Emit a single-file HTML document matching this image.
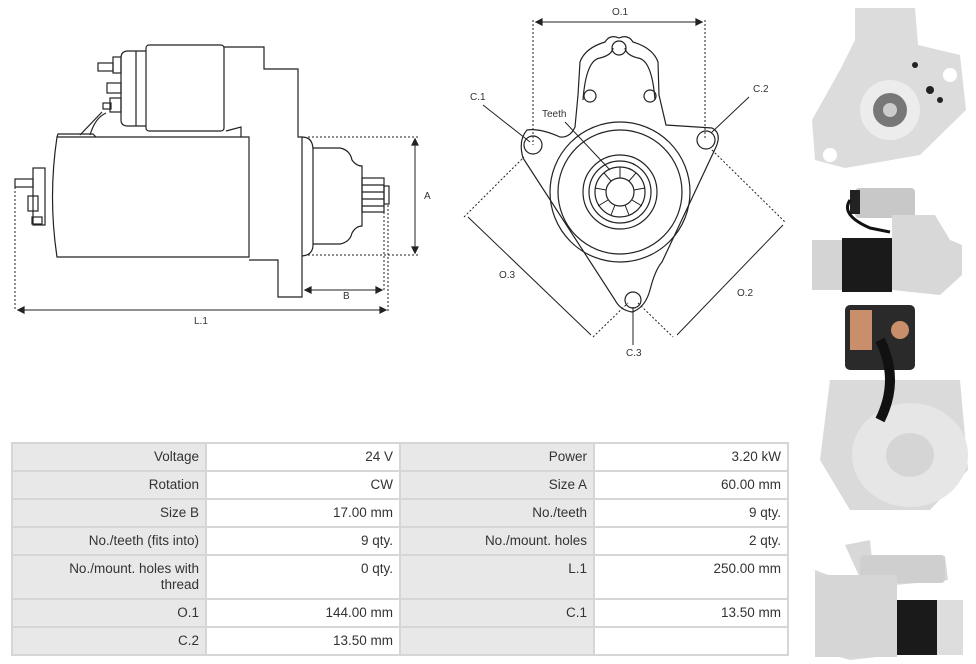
<!DOCTYPE html>
<html><head><meta charset="utf-8"><style>
body{margin:0;width:976px;height:664px;background:#fff;overflow:hidden;position:relative;font-family:"Liberation Sans",sans-serif}
svg{position:absolute;left:0;top:0}
table{position:absolute;left:11px;top:442px;border-collapse:collapse;font-size:13.5px;color:#333}
td{border:2px solid #d6d6d6;text-align:right;vertical-align:top;padding:5px 6px 0 4px;height:21px;line-height:16px}
td.l{background:#e8e8e8}
td.v{background:#fff}
</style></head><body>
<svg width="976" height="664" viewBox="0 0 976 664" fill="none" stroke="#222" stroke-width="1.2">
<!-- left drawing -->
<path d="M57,137 L249,137 L249,257 L57,257 Q48,197 57,137Z"/>
<path d="M57,137 L58,134 L93,134 L96,137"/>
<path d="M80,135 L102,112 M90,135 Q95,118 106,113"/>
<rect x="146" y="45" width="78" height="86" rx="3"/>
<path d="M146,51 L128,51 Q121,51 121,58 L121,120 Q121,126 128,126 L146,126"/>
<path d="M136,51 L136,126"/>
<rect x="113" y="57" width="8" height="16"/><rect x="98" y="63" width="15" height="8"/>
<rect x="107" y="83" width="14" height="10"/>
<rect x="110" y="98" width="11" height="14"/><rect x="103" y="103" width="8" height="6"/>
<path d="M224,47 L264,47 L264,69 L298,69 L298,137 L302,137 L302,297 L278,297 L278,260 L249,260 M226,131 L241,127 L241,137"/>
<path d="M302,137 Q313,137 313,150 L313,245 Q313,255 302,256"/>
<path d="M313,148 L340,148 Q350,150 352,160 Q356,166 362,166 L362,226 Q356,226 352,233 Q350,242 340,244 L313,244"/>
<rect x="362" y="178" width="22" height="34"/><path d="M362,185 L384,185 M362,192 L384,192 M362,199 L384,199 M362,206 L384,206"/>
<rect x="384" y="186" width="5" height="18"/>
<rect x="33" y="168" width="12" height="57"/><rect x="28" y="196" width="10" height="15"/>
<rect x="15" y="179" width="18" height="8"/><rect x="32" y="217" width="10" height="7"/>
<g stroke-dasharray="2,2" stroke-width="1"><path d="M15,187 L15,310 M308,137 L418,137 M308,255 L418,255 M384,212 L384,290 M388,205 L388,312 M302,257 L302,290"/></g>
<path d="M415,139 L415,253 M305,290 L382,290 M18,310 L386,310" stroke-width="1"/>
<path d="M415,139 l-3,6 h6z M415,253 l-3,-6 h6z M305,290 l6,-3 v6z M382,290 l-6,-3 v6z M18,310 l6,-3 v6z M386,310 l-6,-3 v6z" fill="#222"/>
<g font-size="10" fill="#333" stroke="none" font-family="Liberation Sans, sans-serif">
<text x="424" y="199">A</text><text x="343" y="299">B</text><text x="194" y="324">L.1</text>
<text x="612" y="15">O.1</text><text x="470" y="100">C.1</text><text x="753" y="92">C.2</text>
<text x="542" y="117">Teeth</text><text x="499" y="278">O.3</text><text x="737" y="296">O.2</text><text x="626" y="356">C.3</text>
</g>
<!-- center drawing -->
<path d="M527,130 Q540,128 560,137 Q570,138 575,127 L578,95 L580,62 Q585,48 605,42 Q610,34 619,38 Q628,34 633,42 Q653,48 658,62 L659,95 L666,125 L712,128 Q722,133 716,147 L662,262 Q655,270 650,290 Q645,308 632,312 Q620,310 615,300 L523,158 Q518,140 527,130Z"/>
<path d="M583,100 Q586,60 600,58 Q612,55 613,48 M655,100 Q652,60 638,58 Q626,55 625,48"/>
<circle cx="619" cy="48" r="7"/><circle cx="590" cy="96" r="6"/><circle cx="650" cy="96" r="6"/>
<circle cx="533" cy="145" r="9"/><circle cx="706" cy="140" r="9"/><circle cx="633" cy="300" r="8"/>
<circle cx="620" cy="192" r="70"/><circle cx="620" cy="192" r="62"/>
<circle cx="620" cy="192" r="37"/><circle cx="620" cy="192" r="31"/><circle cx="620" cy="192" r="25"/><circle cx="620" cy="192" r="14"/>
<g stroke-width="1"><path d="M620,167 L620,178 M636,173 L629,181 M645,188 L634,190 M642,206 L632,200 M629,215 L625,205 M611,215 L615,205 M598,206 L608,200 M595,188 L606,190 M604,173 L611,181"/></g>
<g stroke-dasharray="2,2" stroke-width="1"><path d="M533,20 L533,145 M705,20 L705,140 M464,217 L524,157 M712,150 L785,222 M593,337 L628,303 M638,303 L673,337"/></g>
<path d="M536,22 L702,22 M468,217 L591,335 M677,335 L783,225 M483,105 L530,142 M749,97 L711,133 M565,122 L610,170 M633,345 L633,307" stroke-width="1"/>
<path d="M536,22 l6,-3 v6z M702,22 l-6,-3 v6z" fill="#222"/>
<!-- photos -->
<g stroke="none">
<path d="M855,8 L915,8 L918,45 L960,55 L966,110 L920,155 L845,168 L815,160 L812,120 L840,70 L855,40Z" fill="#dcdcdc"/>
<circle cx="890" cy="110" r="30" fill="#ececec"/><circle cx="890" cy="110" r="17" fill="#777"/><circle cx="890" cy="110" r="7" fill="#ccc"/>
<circle cx="950" cy="75" r="7" fill="#fff"/><circle cx="830" cy="155" r="7" fill="#fff"/>
<circle cx="915" cy="65" r="3" fill="#222"/><circle cx="930" cy="90" r="4" fill="#222"/><circle cx="940" cy="100" r="3" fill="#222"/>
<rect x="855" y="188" width="60" height="30" rx="4" fill="#c8c8c8"/><rect x="850" y="190" width="10" height="24" fill="#222"/>
<rect x="812" y="240" width="30" height="50" fill="#d4d4d4"/><rect x="842" y="238" width="50" height="54" fill="#1a1a1a"/>
<path d="M892,215 L935,215 L950,240 L962,245 L962,275 L940,295 L892,290Z" fill="#d8d8d8"/>
<path d="M850,200 Q840,215 870,228 L890,232" stroke="#111" stroke-width="3" fill="none"/>
<rect x="845" y="305" width="70" height="65" rx="5" fill="#2a2a2a"/>
<rect x="850" y="310" width="22" height="40" fill="#c98f6a"/><circle cx="900" cy="330" r="9" fill="#c98f6a"/>
<path d="M830,380 L960,380 L968,470 L930,510 L850,510 L820,460 Z" fill="#dadada"/>
<ellipse cx="910" cy="455" rx="58" ry="52" fill="#e6e6e6"/><ellipse cx="910" cy="455" rx="24" ry="22" fill="#d5d5d5"/>
<path d="M880,340 Q900,380 880,420" stroke="#111" stroke-width="10" fill="none"/>
<path d="M845,545 L870,540 L872,560 L945,556 L948,580 L895,585 L895,600 L815,570 L815,650 L850,660 L895,655Z" fill="#d8d8d8"/>
<rect x="860" y="555" width="85" height="28" rx="4" fill="#cfcfcf"/>
<rect x="815" y="575" width="82" height="82" fill="#d6d6d6"/>
<rect x="897" y="600" width="40" height="55" fill="#1a1a1a"/><rect x="937" y="600" width="26" height="55" fill="#ddd"/>
</g>
</svg>
<table>
<tr><td class="l" style="width:182px">Voltage</td><td class="v" style="width:182px">24 V</td><td class="l" style="width:182px">Power</td><td class="v" style="width:182px">3.20 kW</td></tr>
<tr><td class="l">Rotation</td><td class="v">CW</td><td class="l">Size A</td><td class="v">60.00 mm</td></tr>
<tr><td class="l">Size B</td><td class="v">17.00 mm</td><td class="l">No./teeth</td><td class="v">9 qty.</td></tr>
<tr><td class="l">No./teeth (fits into)</td><td class="v">9 qty.</td><td class="l">No./mount. holes</td><td class="v">2 qty.</td></tr>
<tr><td class="l" style="height:37px">No./mount. holes with<br>thread</td><td class="v">0 qty.</td><td class="l">L.1</td><td class="v">250.00 mm</td></tr>
<tr><td class="l">O.1</td><td class="v">144.00 mm</td><td class="l">C.1</td><td class="v">13.50 mm</td></tr>
<tr><td class="l">C.2</td><td class="v">13.50 mm</td><td class="l"></td><td class="v"></td></tr>
</table>
</body></html>
